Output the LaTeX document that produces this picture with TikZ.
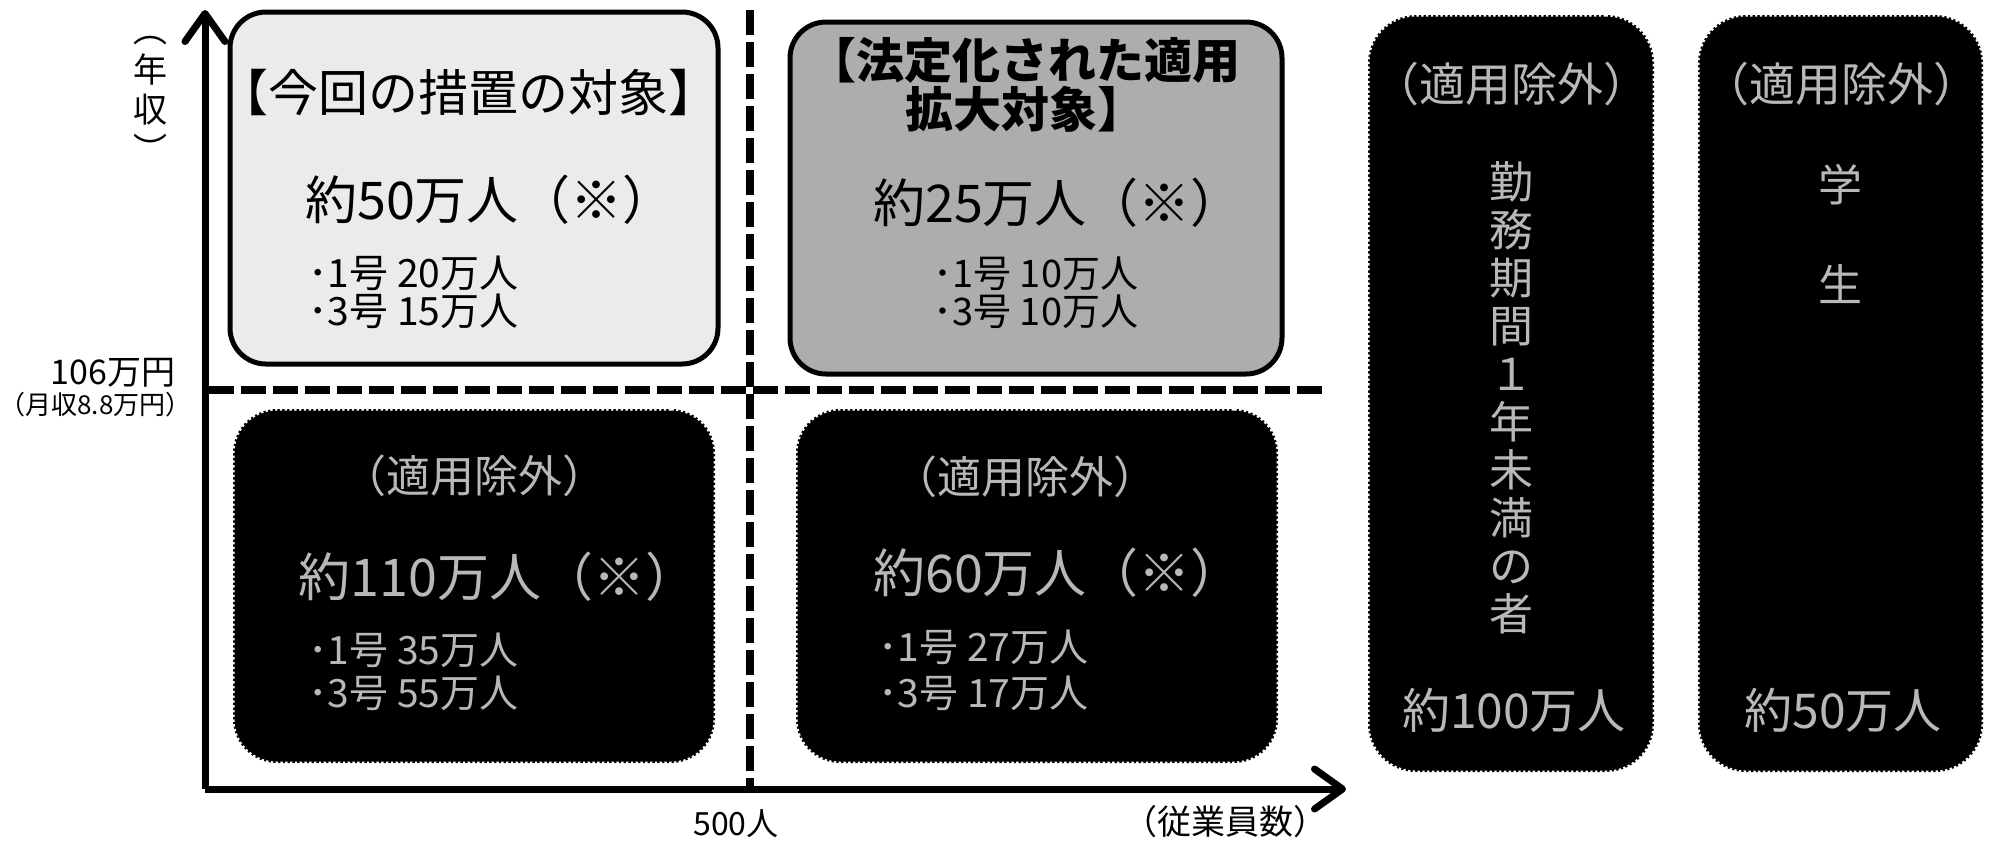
\documentclass[tikz,border=0pt]{standalone}
\usepackage{fontspec}
\setmainfont{Noto Sans CJK JP}
\usetikzlibrary{arrows.meta}
\definecolor{tlfill}{gray}{0.92}
\definecolor{trfill}{gray}{0.68}
\definecolor{ghost}{gray}{0.72}
\begin{document}
\begin{tikzpicture}[x=0.5pt,y=-0.5pt,
  fs/.style={font=\fontsize{#1}{#1}\selectfont},
  fsb/.style={font=\fontsize{#1}{#1}\selectfont\bfseries},
  lightbox/.style={draw=black,line width=2.5pt,rounded corners=18pt,inner sep=0pt},
  darkbox/.style={fill=black,draw=white,line width=1.5pt,dash pattern=on 1.2pt off 1.2pt,rounded corners=22pt,inner sep=0pt},
  txt/.style={inner sep=0pt,anchor=center},
  wtxt/.style={txt,text=ghost},
  axisline/.style={line width=3.5pt,-{Straight Barb[length=14pt,width=20pt,round]}},
  divider/.style={line width=4pt,dash pattern=on 12.5pt off 3.5pt}]
\fill[white] (0,0) rectangle (1990,843);
\useasboundingbox (0,0) rectangle (1990,843);

% dividers
\coordinate (hL) at (209,390);
\coordinate (hR) at (1326,390);
\coordinate (vT) at (750,10);
\coordinate (vB) at (750,786);
\draw[divider] (hL) -- (hR);
\draw[divider] (vT) -- (vB);

% boxes
\node[lightbox,fill=tlfill,minimum width=244pt,minimum height=176pt] (tl) at (474,188) {};
\node[lightbox,fill=trfill,minimum width=246pt,minimum height=176pt] (tr) at (1036,198) {};
\node[darkbox,minimum width=241pt,minimum height=177pt] (bl) at (474,586) {};
\node[darkbox,minimum width=241pt,minimum height=177pt] (br) at (1037,586) {};
\node[darkbox,minimum width=143pt,minimum height=378.5pt,rounded corners=24pt] (ta) at (1511,393.5) {};
\node[darkbox,minimum width=142.5pt,minimum height=378.5pt,rounded corners=24pt] (tb) at (1840.5,393.5) {};

% axes
\coordinate (O) at (205,789);
\coordinate (ytip) at (205,10);
\coordinate (xtip) at (1346,789);
\draw[axisline] (O) -- (ytip);
\draw[axisline] (O) -- (xtip);

% axis labels
\node[txt,align=center,font=\fontsize{17pt}{20pt}\selectfont] (ylab) at (150,99) {︵\\年\\収\\︶};
\node[txt,anchor=east,fs=17pt] (y106) at (176,373) {106万円};
\node[txt,anchor=east,fs=13pt] (ymon) at (192,405) {（月収8.8万円）};
\node[txt,fs=16pt] (x500) at (736,824) {500人};
\node[txt,anchor=east,fs=17pt] (xlab) at (1328,822) {（従業員数）};

% top-left box text
\node[txt,fs=25pt] (tlh) at (468,92) {【今回の措置の対象】};
\node[txt,fs=26pt] (tlm) at (490,200) {約50万人（※）};
\node[txt,anchor=west,fs=19.5pt] (tl1) at (308,273) {･1号 20万人};
\node[txt,anchor=west,fs=19.5pt] (tl3) at (308,311) {･3号 15万人};

% top-right box text
\node[txt,fsb=24pt] (trh1) at (1024,60) {【法定化された適用};
\node[txt,fsb=24pt] (trh2) at (1025,109) {拡大対象】};
\node[txt,fs=26pt] (trm) at (1058,203) {約25万人（※）};
\node[txt,anchor=west,fs=19pt] (tr1) at (933,274) {･1号 10万人};
\node[txt,anchor=west,fs=19pt] (tr3) at (933,312) {･3号 10万人};

% bottom-left box text
\node[wtxt,fs=22pt] (blh) at (474,476) {（適用除外）};
\node[wtxt,fs=26pt] (blm) at (498,577) {約110万人（※）};
\node[wtxt,anchor=west,fs=19.5pt] (bl1) at (308,650) {･1号 35万人};
\node[wtxt,anchor=west,fs=19.5pt] (bl3) at (308,693) {･3号 55万人};

% bottom-right box text
\node[wtxt,fs=22pt] (brh) at (1025,477) {（適用除外）};
\node[wtxt,fs=26pt] (brm) at (1058,573) {約60万人（※）};
\node[wtxt,anchor=west,fs=19.5pt] (br1) at (878,647) {･1号 27万人};
\node[wtxt,anchor=west,fs=19.5pt] (br3) at (878,693) {･3号 17万人};

% tall box 1
\node[wtxt,fs=23pt] (tah) at (1511,84) {（適用除外）};
\node[wtxt,align=center,font=\fontsize{22pt}{24pt}\selectfont] (tab) at (1511,398) {勤\\務\\期\\間\\１\\年\\未\\満\\の\\者};
\node[wtxt,fs=24pt] (taf) at (1514,710) {約100万人};

% tall box 2
\node[wtxt,fs=23pt] (tbh) at (1841,84) {（適用除外）};
\node[wtxt,align=center,font=\fontsize{22pt}{50pt}\selectfont] (tbb) at (1840,234) {学\\生};
\node[wtxt,fs=24pt] (tbf) at (1843,710) {約50万人};
\end{tikzpicture}
\end{document}
